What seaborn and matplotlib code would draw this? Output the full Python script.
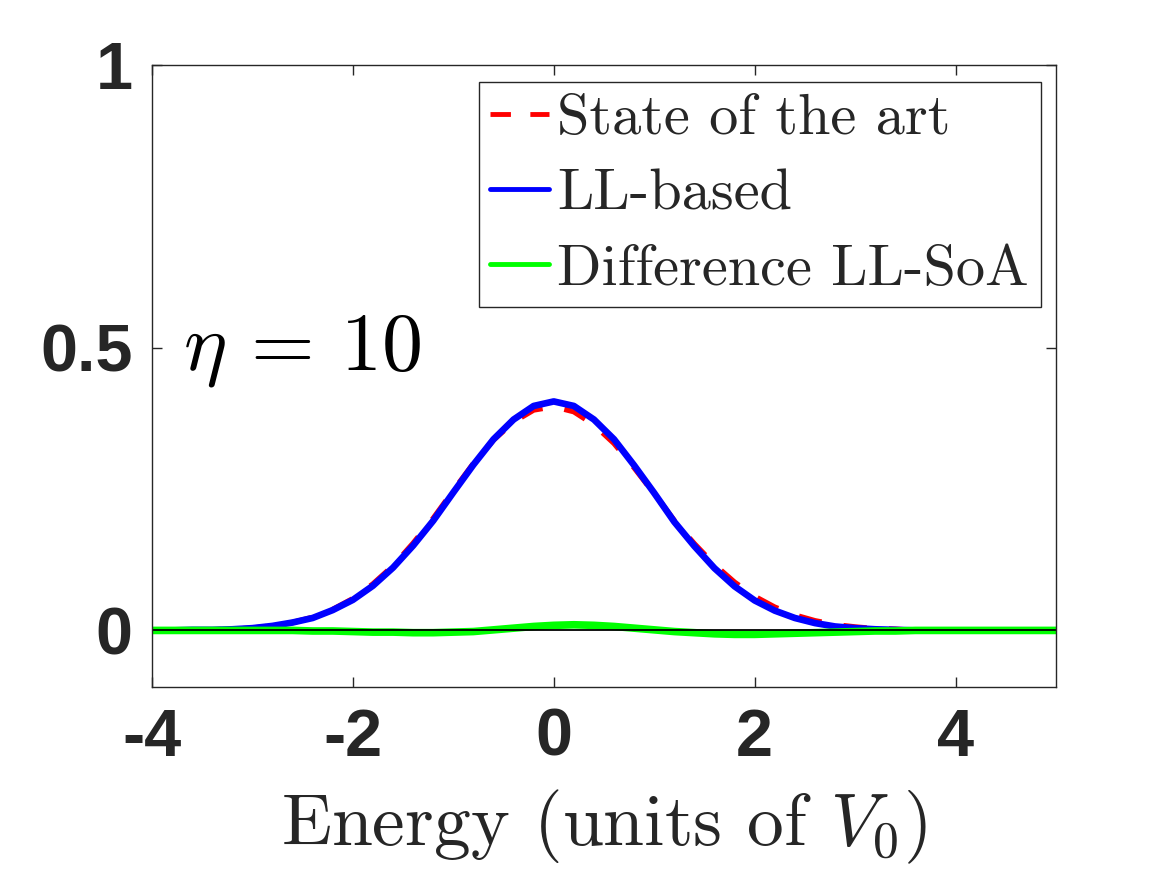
import matplotlib
matplotlib.use("Agg")
import matplotlib.pyplot as plt
import numpy as np
import pandas as pd
import seaborn as sns

# Energy grid (units of V0) and curves
energy = [-4.0, -3.8, -3.6, -3.4, -3.2, -3.0, -2.8, -2.6, -2.4, -2.2,
          -2.0, -1.8, -1.6, -1.4, -1.2, -1.0, -0.8, -0.6, -0.4, -0.2,
          0.0, 0.2, 0.4, 0.6, 0.8, 1.0, 1.2, 1.4, 1.6, 1.8,
          2.0, 2.2, 2.4, 2.6, 2.8, 3.0, 3.2, 3.4, 3.6, 3.8,
          4.0, 4.2, 4.4, 4.6, 4.8, 5.0]

ll_based = [0.000, 0.000, 0.001, 0.001, 0.002, 0.004, 0.008, 0.014, 0.022, 0.036,
            0.054, 0.079, 0.111, 0.150, 0.194, 0.244, 0.293, 0.338, 0.373, 0.397,
            0.405, 0.397, 0.373, 0.338, 0.292, 0.243, 0.192, 0.149, 0.110, 0.078,
            0.053, 0.035, 0.022, 0.013, 0.007, 0.004, 0.002, 0.001, 0.000, 0.000,
            0.000, 0.000, 0.000, 0.000, 0.000, 0.000]

difference = [0.000, 0.000, 0.000, 0.000, 0.000, 0.000, 0.000, 0.000, -0.001, -0.001,
              -0.002, -0.003, -0.003, -0.004, -0.004, -0.003, -0.002, 0.001, 0.004, 0.007,
              0.009, 0.010, 0.009, 0.007, 0.004, 0.001, -0.002, -0.004, -0.006, -0.007,
              -0.007, -0.006, -0.005, -0.004, -0.003, -0.002, -0.001, -0.001, 0.000, 0.000,
              0.000, 0.000, 0.000, 0.000, 0.000, 0.000]

x_ticks = [-4, -2, 0, 2, 4]
y_ticks = [0, 0.5, 1]
y_tick_labels = ["0", "0.5", "1"]
eta_label = r"$\eta\,=\,10$"

df = pd.DataFrame({"energy": energy, "ll": ll_based, "diff": difference})
# state of the art = LL-based minus the plotted difference
df["soa"] = df["ll"] - df["diff"]

sns.set_style("ticks")
plt.rcParams["mathtext.fontset"] = "cm"
plt.rcParams["axes.unicode_minus"] = False

fig = plt.figure(figsize=(11.67, 8.75), dpi=100)
ax = fig.add_axes([0.1302, 0.2149, 0.7747, 0.7108])

sns.lineplot(data=df, x="energy", y="soa", ax=ax, color="#ff0000", linewidth=4,
             linestyle=(0, (4.2, 4.0)), label="State of the art")
sns.lineplot(data=df, x="energy", y="ll", ax=ax, color="#0000ff", linewidth=4.8,
             label="LL-based")
sns.lineplot(data=df, x="energy", y="diff", ax=ax, color="#00ff00", linewidth=5.5,
             label="Difference LL-SoA")
ax.axhline(0, color="black", linewidth=1.3)

ax.set_xlim(-4, 5)
ax.set_ylim(-0.1, 1)
ax.set_xticks(x_ticks)
ax.set_xticklabels([str(t) for t in x_ticks])
ax.set_yticks(y_ticks)
ax.set_yticklabels(y_tick_labels)

for lab in ax.get_xticklabels() + ax.get_yticklabels():
    lab.set_fontfamily("Liberation Sans")
    lab.set_fontweight("bold")
    lab.set_fontsize(48)
    lab.set_color("#262626")

ax.tick_params(direction="in", length=7, width=1, color="#262626",
               top=True, right=True)
ax.tick_params(axis="x", pad=15)
ax.tick_params(axis="y", pad=14)
for sp in ax.spines.values():
    sp.set_visible(True)
    sp.set_color("#262626")
    sp.set_linewidth(1.0)

ax.set_xlabel(r"Energy (units of $V_0$)", fontfamily="cmr10", fontsize=53,
              color="#262626", labelpad=13)
ax.set_ylabel("")

ax.text(-3.69, 0.462, eta_label, fontsize=59, color="black",
        ha="left", va="baseline")

leg = ax.legend(loc="upper right", bbox_to_anchor=(0.983, 0.973),
                borderaxespad=0, frameon=True, fancybox=False,
                prop={"family": "cmr10", "size": 42},
                handlelength=1.0, handletextpad=0.15, borderpad=0.2,
                labelspacing=0.4)
leg.get_frame().set_edgecolor("#262626")
leg.get_frame().set_linewidth(1.0)
leg.get_frame().set_alpha(1)
for line in leg.get_lines():
    line.set_linewidth(3.5)

fig.savefig("out.png", dpi=100)
